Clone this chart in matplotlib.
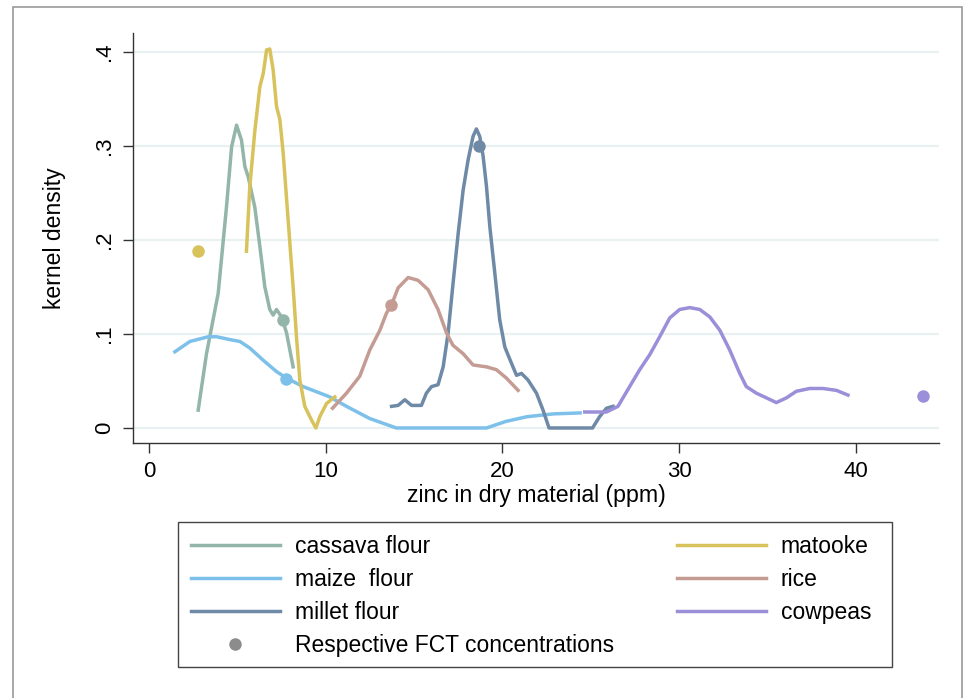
import matplotlib
matplotlib.use("Agg")
import matplotlib.pyplot as plt
from matplotlib.patches import Rectangle
from matplotlib.lines import Line2D

plt.rcParams['font.family'] = ['Liberation Sans', 'DejaVu Sans']

# kernel density curves
cassava_x = [2.79, 3.26, 3.92, 4.39, 4.68, 4.96, 5.24, 5.43, 5.62, 5.99, 6.28, 6.56, 6.84, 7.03, 7.22, 7.51, 7.79, 8.16]
cassava_y = [0.019, 0.079, 0.143, 0.235, 0.299, 0.322, 0.306, 0.278, 0.267, 0.235, 0.193, 0.150, 0.126, 0.120, 0.126, 0.118, 0.101, 0.065]

matooke_x = [5.52, 5.71, 6.00, 6.28, 6.47, 6.66, 6.84, 7.03, 7.22, 7.41, 7.60, 7.88, 8.16, 8.35, 8.54, 8.82, 9.20, 9.45, 9.67, 10.05, 10.52]
matooke_y = [0.188, 0.257, 0.317, 0.363, 0.377, 0.402, 0.403, 0.381, 0.342, 0.328, 0.292, 0.221, 0.150, 0.097, 0.051, 0.023, 0.0085, 0.0, 0.012, 0.026, 0.033]

maize_x = [1.47, 2.32, 3.36, 3.83, 4.58, 5.15, 5.71, 6.47, 7.22, 7.79, 8.73, 10.24, 11.18, 12.5, 14.0, 19.1, 20.2, 21.4, 22.9, 24.4]
maize_y = [0.081, 0.092, 0.097, 0.097, 0.094, 0.092, 0.085, 0.072, 0.060, 0.053, 0.044, 0.033, 0.023, 0.010, 0.0, 0.0, 0.007, 0.012, 0.015, 0.016]

rice_x = [10.39, 11.18, 11.93, 12.5, 13.07, 13.44, 13.73, 14.1, 14.67, 15.23, 15.8, 16.36, 16.84, 17.2, 17.78, 18.34, 19.1, 19.66, 20.23, 20.89]
rice_y = [0.021, 0.037, 0.055, 0.083, 0.104, 0.122, 0.131, 0.149, 0.160, 0.157, 0.147, 0.126, 0.101, 0.088, 0.079, 0.067, 0.065, 0.062, 0.053, 0.040]

millet_x = [13.73, 14.1, 14.48, 14.86, 15.42, 15.7, 15.99, 16.36, 16.65, 16.93, 17.21, 17.5, 17.78, 18.06, 18.34, 18.53, 18.72, 18.91, 19.1, 19.29, 19.57,
            19.85, 20.14, 20.51, 20.8, 21.08, 21.45, 21.93, 22.3, 22.64, 25.1, 25.5, 25.89, 26.26]
millet_y = [0.023, 0.024, 0.030, 0.024, 0.024, 0.037, 0.044, 0.046, 0.065, 0.101, 0.154, 0.207, 0.253, 0.285, 0.310, 0.318, 0.310, 0.289, 0.257, 0.214, 0.165,
            0.115, 0.086, 0.069, 0.056, 0.058, 0.051, 0.037, 0.019, 0.0, 0.0, 0.012, 0.021, 0.023]

cowpeas_x = [24.66, 25.89, 26.54, 27.2, 27.77, 28.34, 28.9, 29.47, 30.03, 30.6, 31.17, 31.74, 32.3, 32.86, 33.43, 33.8, 34.37, 34.94, 35.5, 36.07, 36.63,
             37.39, 38.14, 38.9, 39.55]
cowpeas_y = [0.017, 0.017, 0.023, 0.044, 0.062, 0.078, 0.097, 0.117, 0.126, 0.128, 0.126, 0.118, 0.104, 0.083, 0.058, 0.044, 0.037, 0.032, 0.027, 0.032, 0.039,
             0.042, 0.042, 0.040, 0.035]

# FCT concentration points: cassava, maize, millet, matooke, rice, cowpeas
fct_x = [7.6, 7.75, 18.68, 2.79, 13.69, 43.8]
fct_y = [0.115, 0.052, 0.300, 0.188, 0.131, 0.034]

c_cassava = '#93b5aa'
c_maize = '#7dc0ea'
c_millet = '#6f8aa6'
c_matooke = '#d8c25c'
c_rice = '#c49c94'
c_cowpeas = '#9a8fd8'

fig = plt.figure(figsize=(9.65, 6.98), dpi=100)
ax = fig.add_axes([0.1378, 0.3653, 0.8352, 0.5874])

lw = 2.5
ax.plot(cassava_x, cassava_y, color=c_cassava, lw=lw)
ax.plot(maize_x, maize_y, color=c_maize, lw=lw)
ax.plot(millet_x, millet_y, color=c_millet, lw=lw)
ax.plot(matooke_x, matooke_y, color=c_matooke, lw=lw)
ax.plot(rice_x, rice_y, color=c_rice, lw=lw)
ax.plot(cowpeas_x, cowpeas_y, color=c_cowpeas, lw=lw)

fct_cols = [c_cassava, c_maize, c_millet, c_matooke, c_rice, c_cowpeas]
for x, y, c in zip(fct_x, fct_y, fct_cols):
    ax.plot(x, y, 'o', color=c, ms=9, mec='none', zorder=5)

ax.set_xlim(-0.9, 44.7)
ax.set_ylim(-0.016, 0.42)
ax.set_xticks([0, 10, 20, 30, 40])
ax.set_yticks([0, 0.1, 0.2, 0.3, 0.4])
ax.set_yticklabels(['0', '.1', '.2', '.3', '.4'], rotation=90, va='center')
ax.yaxis.grid(True, color='#e9f1f2', lw=1.6)
ax.set_axisbelow(True)
for s in ['top', 'right']:
    ax.spines[s].set_visible(False)
for s in ['left', 'bottom']:
    ax.spines[s].set_color('#333333')
    ax.spines[s].set_linewidth(1.0)
ax.tick_params(length=7, width=1, color='#333333', labelsize=16, pad=6)
ax.set_ylabel('kernel density', fontsize=16.6, va='center')
ax.yaxis.set_label_coords(-0.097, 0.5)
ax.set_xlabel('zinc in dry material (ppm)', fontsize=16.7, va='center')
ax.xaxis.set_label_coords(0.5, -0.127)

handles = [
    Line2D([], [], color=c_cassava, lw=lw),
    Line2D([], [], color=c_maize, lw=lw),
    Line2D([], [], color=c_millet, lw=lw),
    Line2D([], [], marker='o', ls='none', color='#8c8c8c', ms=9, mec='none'),
    Line2D([], [], color=c_matooke, lw=lw),
    Line2D([], [], color=c_rice, lw=lw),
    Line2D([], [], color=c_cowpeas, lw=lw),
]
labels = ['cassava flour', 'maize  flour', 'millet flour', 'Respective FCT concentrations',
          'matooke', 'rice', 'cowpeas']
leg = fig.legend(handles, labels, ncol=2, loc='upper left',
                 bbox_to_anchor=(178 / 965, 1 - 667 / 698, (884 - 178) / 965, (667 - 522) / 698),
                 mode='expand', fontsize=16.5, frameon=False,
                 handlelength=3.9, handletextpad=0.65,
                 labelspacing=0.44, borderpad=0.55, borderaxespad=0, columnspacing=2.0)

# legend frame
fig.patches.append(Rectangle((178 / 965, 1 - 667 / 698), (892 - 178) / 965, (667 - 522) / 698,
                             transform=fig.transFigure, fill=False,
                             edgecolor='#444444', lw=1.0))

# outer graph frame
fig.patches.append(Rectangle((13 / 965, -0.05), (962 - 13) / 965, 1.05 - 7 / 698,
                             transform=fig.transFigure, fill=False,
                             edgecolor='#999999', lw=1.2))

fig.savefig('out.png', dpi=100)
